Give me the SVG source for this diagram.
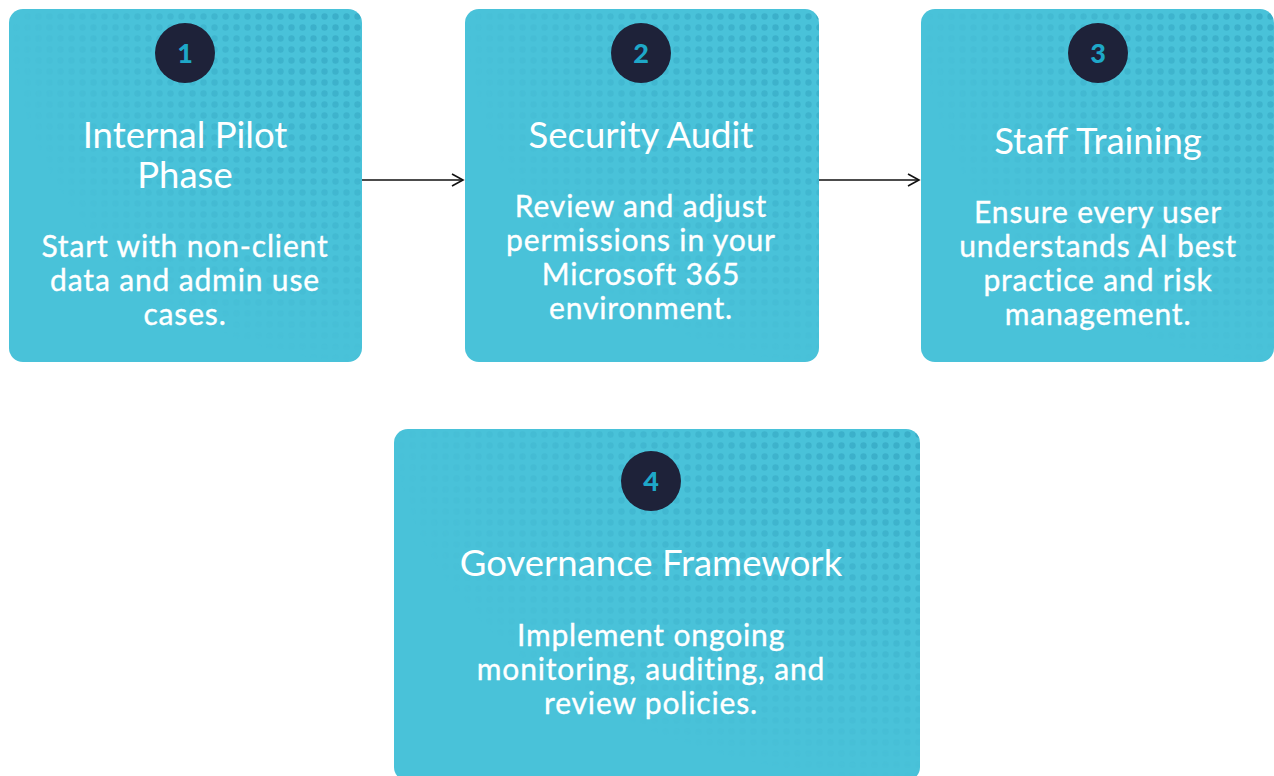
<svg xmlns="http://www.w3.org/2000/svg" width="1274" height="776" viewBox="0 0 1274 776">
<style>
.box{fill:#49c2d9}
.dots{fill:url(#dotpat)}
.badge{fill:#1e2239}
.num{font-family:Lato,"Liberation Sans",sans-serif;font-weight:900;font-size:27px;fill:#1ea8c8;text-anchor:middle}
.title{font-family:Lato,"Liberation Sans",sans-serif;font-size:36.5px;fill:#ffffff;text-anchor:middle}
.body{font-family:Lato,"Liberation Sans",sans-serif;font-weight:400;font-size:30px;letter-spacing:0.85px;fill:#ffffff;stroke:#ffffff;stroke-width:0.35;text-anchor:middle}
.conn{stroke:#111111;stroke-width:1.6;fill:none}
</style>
<defs>
<pattern id="dotpat" width="11" height="11" patternUnits="userSpaceOnUse">
<circle cx="5.5" cy="5.5" r="3.2" fill="#38abc6"/>
</pattern>
<radialGradient id="fade" cx="1" cy="0" r="1">
<stop offset="0" stop-color="#fff" stop-opacity="0.9"/>
<stop offset="0.7" stop-color="#fff" stop-opacity="0.3"/>
<stop offset="1" stop-color="#fff" stop-opacity="0"/>
</radialGradient>
<mask id="m" maskContentUnits="objectBoundingBox">
<rect width="1" height="1" fill="url(#fade)"/>
</mask>
<marker id="arr" markerWidth="14" markerHeight="14" refX="12" refY="7" orient="auto" markerUnits="userSpaceOnUse">
<path d="M1,1 L12,7 L1,13" fill="none" stroke="#111111" stroke-width="1.6"/>
</marker>
</defs>
<rect width="1274" height="776" fill="#ffffff"/>
<g id="connectors">
<line class="conn" x1="362" y1="180" x2="463" y2="180" marker-end="url(#arr)"/>
<line class="conn" x1="819" y1="180" x2="919" y2="180" marker-end="url(#arr)"/>
</g>
<g id="node1">
<rect class="box" x="9" y="9" width="353" height="353" rx="14"/>
<rect class="dots" x="9" y="9" width="353" height="353" rx="14" mask="url(#m)"/>
<circle class="badge" cx="185" cy="53" r="30"/>
<text class="num" x="185" y="63">1</text>
<text class="title" x="185" y="148">Internal Pilot</text>
<text class="title" x="185" y="188">Phase</text>
<text class="body" x="185" y="257">Start with non-client</text>
<text class="body" x="185" y="291">data and admin use</text>
<text class="body" x="185" y="325">cases.</text>
</g>
<g id="node2">
<rect class="box" x="465" y="9" width="354" height="353" rx="14"/>
<rect class="dots" x="465" y="9" width="354" height="353" rx="14" mask="url(#m)"/>
<circle class="badge" cx="641" cy="53" r="30"/>
<text class="num" x="641" y="63">2</text>
<text class="title" x="641" y="148">Security Audit</text>
<text class="body" x="641" y="217">Review and adjust</text>
<text class="body" x="641" y="251">permissions in your</text>
<text class="body" x="641" y="285">Microsoft 365</text>
<text class="body" x="641" y="319">environment.</text>
</g>
<g id="node3">
<rect class="box" x="921" y="9" width="353" height="353" rx="14"/>
<rect class="dots" x="921" y="9" width="353" height="353" rx="14" mask="url(#m)"/>
<circle class="badge" cx="1098" cy="53" r="30"/>
<text class="num" x="1098" y="63">3</text>
<text class="title" x="1098" y="154">Staff Training</text>
<text class="body" x="1098" y="223">Ensure every user</text>
<text class="body" x="1098" y="257">understands AI best</text>
<text class="body" x="1098" y="291">practice and risk</text>
<text class="body" x="1098" y="325">management.</text>
</g>
<g id="node4">
<rect class="box" x="394" y="429" width="526" height="352" rx="14"/>
<rect class="dots" x="394" y="429" width="526" height="352" rx="14" mask="url(#m)"/>
<circle class="badge" cx="651" cy="481" r="30"/>
<text class="num" x="651" y="491">4</text>
<text class="title" x="651" y="576">Governance Framework</text>
<text class="body" x="651" y="646">Implement ongoing</text>
<text class="body" x="651" y="680">monitoring, auditing, and</text>
<text class="body" x="651" y="714">review policies.</text>
</g>
</svg>
